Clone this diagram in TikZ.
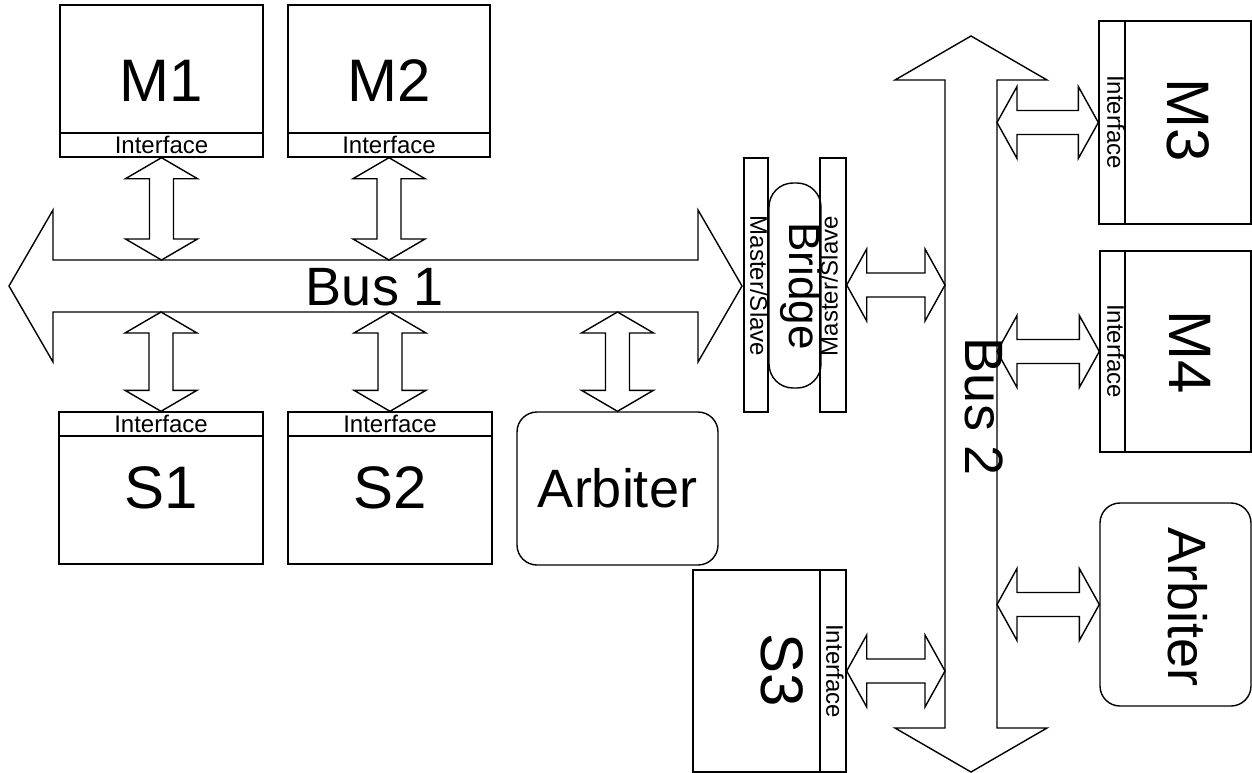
\documentclass[tikz,border=0pt]{standalone}
\usepackage{fontspec}
\setmainfont{Liberation Sans}
\usetikzlibrary{calc}
\tikzset{
  ln/.style={line width=1.4pt, line join=miter},
  modbox/.style={draw, ln, rectangle, inner sep=0pt, font=\fontsize{60}{60}\selectfont},
  strip/.style={draw, ln, rectangle, inner sep=0pt, font=\fontsize{24}{24}\selectfont},
  arbbox/.style={draw, ln, rectangle, rounded corners=20pt, inner sep=0pt, font=\fontsize{54}{54}\selectfont},
  small/.style={inner sep=0pt, font=\fontsize{24}{24}\selectfont},
  biglab/.style={inner sep=0pt, font=\fontsize{60}{60}\selectfont},
  buslab/.style={inner sep=0pt, font=\fontsize{54}{54}\selectfont},
  arrowline/.style={ln},
}
\newcommand\blockbi[5]{%
  \path (#1) coordinate (ba) (#2) coordinate (bb);
  \path ($(ba)!#3pt!(bb)$) coordinate (bp) ($(bb)!#3pt!(ba)$) coordinate (bq);
  \draw[arrowline] (ba) -- ($(bp)!#4pt!90:(bb)$) -- ($(bp)!#5pt!90:(bb)$)
    -- ($(bq)!#5pt!-90:(ba)$) -- ($(bq)!#4pt!-90:(ba)$) -- (bb)
    -- ($(bq)!#4pt!90:(ba)$) -- ($(bq)!#5pt!90:(ba)$)
    -- ($(bp)!#5pt!-90:(bb)$) -- ($(bp)!#4pt!-90:(bb)$) -- cycle;}
\begin{document}
\begin{tikzpicture}[x=1pt, y=-1pt]
\useasboundingbox (0,0) rectangle (1252,773);

% bus geometry
\coordinate (b1w) at (9,286);
\coordinate (b1e) at (742,286);
\coordinate (b1top) at (0,260);
\coordinate (b1bot) at (0,312);
\coordinate (b2n) at (971,36);
\coordinate (b2s) at (971,772);
\coordinate (b2l) at (945,0);
\coordinate (b2r) at (997,0);

\blockbi{b1w}{b1e}{44}{76}{26}
\blockbi{b2n}{b2s}{44}{76}{26}
\node[buslab] (bus1lab) at (375,287) {Bus 1};
\node[buslab, rotate=-90] (bus2lab) at (984,407) {Bus 2};

% masters and slaves on bus 1
\node[modbox, minimum width=203pt, minimum height=152pt] (M1) at (161.5,81) {M1};
\node[strip, minimum width=203pt, minimum height=24pt, anchor=south] (M1if) at (M1.south) {Interface};
\node[modbox, minimum width=202pt, minimum height=152pt] (M2) at (389,81) {M2};
\node[strip, minimum width=202pt, minimum height=24pt, anchor=south] (M2if) at (M2.south) {Interface};
\node[modbox, minimum width=204pt, minimum height=152pt] (S1) at (161,488) {S1};
\node[strip, minimum width=204pt, minimum height=24pt, anchor=north] (S1if) at (S1.north) {Interface};
\node[modbox, minimum width=204pt, minimum height=152pt] (S2) at (390,488) {S2};
\node[strip, minimum width=204pt, minimum height=24pt, anchor=north] (S2if) at (S2.north) {Interface};
\node[arbbox, minimum width=201pt, minimum height=153pt] (Arb1) at (617.5,488.5) {Arbiter};

\blockbi{M1if.south}{M1if.south |- b1top}{21}{36}{12}
\blockbi{M2if.south}{M2if.south |- b1top}{21}{36}{12}
\blockbi{S1if.north |- b1bot}{S1if.north}{21}{36}{12}
\blockbi{S2if.north |- b1bot}{S2if.north}{21}{36}{12}
\blockbi{Arb1.north |- b1bot}{Arb1.north}{21}{36}{12}

% bridge
\node[draw, ln, rectangle, rounded corners=24pt, minimum width=52pt, minimum height=205pt, inner sep=0pt] (Br) at (795,285.5) {};
\node[strip, minimum width=24pt, minimum height=254pt] (BrL) at (756,285) {};
\node[strip, minimum width=26pt, minimum height=254pt] (BrR) at (833,285) {};
\node[inner sep=0pt, rotate=-90, font=\fontsize{44}{44}\selectfont] (brlab) at (801,286) {Bridge};
\node[small, rotate=-90] (brLlab) at (759,286) {Master/Slave};
\node[small, rotate=90] (brRlab) at (829,286) {Master/Slave};
\blockbi{BrR.east}{BrR.east -| b2l}{20}{36}{12}

% modules on bus 2
\node[modbox, minimum width=152pt, minimum height=203pt] (M3) at (1175,122.5) {};
\node[strip, minimum width=26pt, minimum height=203pt, anchor=west] (M3if) at (M3.west) {};
\node[biglab, rotate=-90] (M3lab) at (1188,120) {M3};
\node[small, rotate=-90] (M3iflab) at (1116,122) {Interface};

\node[modbox, minimum width=151pt, minimum height=201pt] (M4) at (1175.5,351.5) {};
\node[strip, minimum width=25pt, minimum height=201pt, anchor=west] (M4if) at (M4.west) {};
\node[biglab, rotate=-90] (M4lab) at (1190,352) {M4};
\node[small, rotate=-90] (M4iflab) at (1116,351) {Interface};

\node[arbbox, minimum width=151pt, minimum height=203pt] (Arb2) at (1175.5,604.5) {};
\node[buslab, rotate=-90] (Arb2lab) at (1188,607) {Arbiter};

\node[modbox, minimum width=153pt, minimum height=202pt] (S3) at (769.5,671) {};
\node[strip, minimum width=26pt, minimum height=202pt, anchor=east] (S3if) at (S3.east) {};
\node[biglab, rotate=-90] (S3lab) at (782,670) {S3};
\node[small, rotate=-90] (S3iflab) at (835,671) {Interface};

\blockbi{b2r |- M3if.west}{M3if.west}{20}{36}{12}
\blockbi{b2r |- M4if.west}{M4if.west}{20}{36}{12}
\blockbi{b2r |- Arb2.west}{Arb2.west}{20}{36}{12}
\blockbi{S3if.east}{S3if.east -| b2l}{20}{36}{12}
\end{tikzpicture}
\end{document}
